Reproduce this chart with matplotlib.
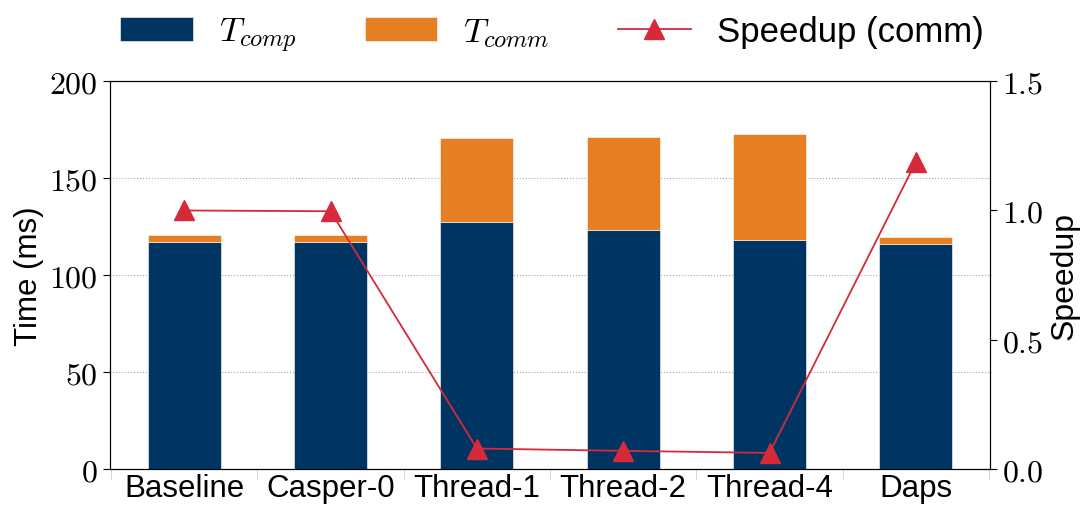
import numpy as np
import matplotlib
matplotlib.use('Agg')
import matplotlib.pyplot as plt
from matplotlib.ticker import FuncFormatter

plt.rcParams['font.family'] = ['Liberation Sans', 'DejaVu Sans']
plt.rcParams['mathtext.fontset'] = 'cm'

methods = ['Baseline', 'Casper-0', 'Thread-1', 'Thread-2', 'Thread-4', 'Daps']
t_comp = [116.9, 116.9, 127.5, 123.2, 118.2, 116.3]
t_comm = [3.9, 3.9, 43.0, 47.9, 54.5, 3.4]
speedup = [1.0, 0.997, 0.080, 0.071, 0.063, 1.187]

BLUE = '#003463'
ORANGE = '#e67f22'
RED = '#d62a3a'

x = np.arange(len(methods))
fig, ax = plt.subplots(figsize=(10.86, 5.1), dpi=100)
fig.subplots_adjust(left=0.101, right=0.912, top=0.839, bottom=0.078)

ax.bar(x, t_comp, width=0.5, color=BLUE, edgecolor='white', linewidth=0.4,
       label='$T_{comp}$', zorder=2)
ax.bar(x, t_comm, width=0.5, bottom=t_comp, color=ORANGE, edgecolor='white',
       linewidth=0.4, label='$T_{comm}$', zorder=2)
ax.set_ylim(0, 200)
ax.set_xlim(-0.51, 5.51)
ax.set_yticks([0, 50, 100, 150, 200])
ax.yaxis.set_major_formatter(FuncFormatter(lambda v, p: f'${v:.0f}$'))
ax.tick_params(axis='y', labelsize=23, length=5)
ax.grid(axis='y', linestyle=':', color='#aaaaaa', linewidth=0.8, zorder=0)
ax.set_ylabel('Time (ms)', fontsize=22.5, labelpad=4)

ax.set_xticks(x)
ax.set_xticklabels(methods, fontsize=22.5)
ax.tick_params(axis='x', which='major', length=0, pad=3)
ax.set_xticks(np.arange(-0.5, len(methods), 1.0), minor=True)
ax.tick_params(axis='x', which='minor', length=7, color='#cccccc')

ax2 = ax.twinx()
ax2.plot(x, speedup, color=RED, marker='^', markersize=14, linewidth=1.3,
         label='Speedup (comm)', zorder=3)
ax2.set_ylim(0, 1.5)
ax2.set_yticks([0, 0.5, 1.0, 1.5])
ax2.yaxis.set_major_formatter(FuncFormatter(lambda v, p: f'${v:.1f}$'))
ax2.tick_params(axis='y', labelsize=23, length=5)
ax2.set_ylabel('Speedup', fontsize=23, labelpad=4)

h1, l1 = ax.get_legend_handles_labels()
h2, l2 = ax2.get_legend_handles_labels()
fig.legend(h1 + h2, l1 + l2, loc='upper center', bbox_to_anchor=(0.508, 1.03),
           ncol=3, frameon=False, fontsize=25, handlelength=2.1,
           columnspacing=1.95, handletextpad=0.75)

plt.savefig('out.png', dpi=100)
plt.close()
